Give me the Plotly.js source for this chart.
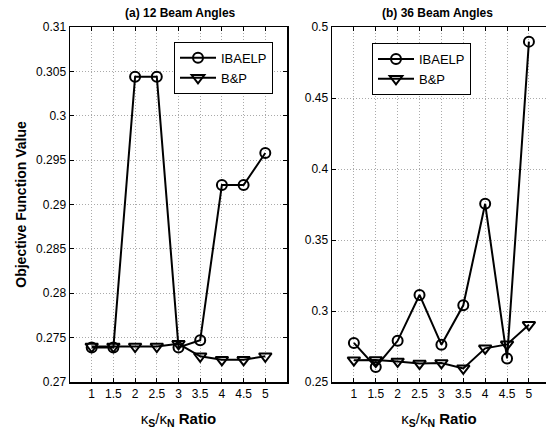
<!DOCTYPE html>
<html>
<head>
<meta charset="utf-8">
<script src="https://cdn.plot.ly/plotly-3.0.1.min.js"></script>
<style>
html,body{margin:0;padding:0;background:#fff;}
#chart{width:546px;height:432px;}
</style>
</head>
<body>
<div id="chart"></div>
<script>
// ---- data ----
const ratios = [1, 1.5, 2, 2.5, 3, 3.5, 4, 4.5, 5];
const xTickLabels = ["1", "1.5", "2", "2.5", "3", "3.5", "4", "4.5", "5"];

const ibaelp12 = [0.2739, 0.2739, 0.3044, 0.3044, 0.2739, 0.2747, 0.2922, 0.2922, 0.2958];
const bp12     = [0.2740, 0.2740, 0.2740, 0.2740, 0.2743, 0.2729, 0.2725, 0.2725, 0.2729];

const ibaelp36 = [0.2775, 0.2606, 0.2790, 0.3113, 0.2763, 0.3040, 0.3755, 0.2666, 0.4897];
const bp36     = [0.2654, 0.2655, 0.2645, 0.2630, 0.2634, 0.2596, 0.2737, 0.2765, 0.2903];

const yTicks12 = [0.27, 0.275, 0.28, 0.285, 0.29, 0.295, 0.3, 0.305, 0.31];
const yTickLabels12 = ["0.27", "0.275", "0.28", "0.285", "0.29", "0.295", "0.3", "0.305", "0.31"];
const yTicks36 = [0.25, 0.3, 0.35, 0.4, 0.45, 0.5];
const yTickLabels36 = ["0.25", "0.3", "0.35", "0.4", "0.45", "0.5"];

const seriesNames = ["IBAELP", "B&P"];
const panelTitles = ["(a) 12 Beam Angles", "(b) 36 Beam Angles"];

// ---- styles ----
const lineStyle = {color: "#000", width: 2};
const circ = {symbol: "circle-open", size: 10, color: "#000", line: {width: 2, color: "#000"}};
const tri = {symbol: "triangle-down-open", size: 11, color: "#000", line: {width: 2, color: "#000"}};
const font = "'Liberation Sans', Arial, Helvetica, sans-serif";

const traces = [
  {x: ratios, y: ibaelp12, name: seriesNames[0], mode: "lines+markers", line: lineStyle, marker: circ, xaxis: "x", yaxis: "y", legend: "legend"},
  {x: ratios, y: bp12, name: seriesNames[1], mode: "lines+markers", line: lineStyle, marker: tri, xaxis: "x", yaxis: "y", legend: "legend"},
  {x: ratios, y: ibaelp36, name: seriesNames[0], mode: "lines+markers", line: lineStyle, marker: circ, xaxis: "x2", yaxis: "y2", legend: "legend2"},
  {x: ratios, y: bp36, name: seriesNames[1], mode: "lines+markers", line: lineStyle, marker: tri, xaxis: "x2", yaxis: "y2", legend: "legend2"}
];

const W = 546;
const xTitle = "κ<sub><b>S</b></sub>/κ<sub><b>N</b></sub><b> Ratio</b>";
const xAxisCommon = {
  tickvals: ratios, ticktext: xTickLabels,
  ticks: "inside", ticklen: 4, tickcolor: "#000", tickwidth: 1,
  showline: true, linecolor: "#000", linewidth: 1.5,
  showgrid: true, gridcolor: "#aaa", griddash: "1px,2px", gridwidth: 1,
  zeroline: false,
  tickfont: {family: font, size: 12, color: "#000"},
  title: {text: xTitle, font: {family: font, size: 15, color: "#000"}, standoff: 13}
};
const yAxisCommon = {
  ticks: "inside", ticklen: 4, tickcolor: "#000", tickwidth: 1,
  showline: true, linecolor: "#000", linewidth: 1.5,
  showgrid: true, gridcolor: "#aaa", griddash: "1px,2px", gridwidth: 1,
  zeroline: false,
  tickfont: {family: font, size: 12, color: "#000"}
};

const layout = {
  width: 546, height: 432,
  margin: {l: 0, r: 0, t: 27, b: 50, pad: 0},
  paper_bgcolor: "#fff", plot_bgcolor: "#fff",
  showlegend: true,
  xaxis: Object.assign({}, xAxisCommon, {domain: [70 / W, 287 / W], range: [0.5, 5.5], mirror: "ticks", anchor: "y"}),
  yaxis: Object.assign({}, yAxisCommon, {domain: [0, 1], range: [0.27, 0.31], tickvals: yTicks12, ticktext: yTickLabels12, mirror: "ticks", anchor: "x",
    title: {text: "<b>Objective Function Value</b>", font: {family: font, size: 14, color: "#000"}, standoff: 6}}),
  xaxis2: Object.assign({}, xAxisCommon, {domain: [332 / W, 1], range: [0.5, 5.39], mirror: "ticks", anchor: "y2"}),
  yaxis2: Object.assign({}, yAxisCommon, {domain: [0, 1], range: [0.25, 0.5], tickvals: yTicks36, ticktext: yTickLabels36, mirror: false, anchor: "x2"}),
  legend: {x: 174 / W, y: 0.958, xanchor: "left", yanchor: "top", bordercolor: "#000", borderwidth: 1, bgcolor: "#fff",
    font: {family: font, size: 13, color: "#000"}, tracegroupgap: 0, itemwidth: 36},
  legend2: {x: 372 / W, y: 0.955, xanchor: "left", yanchor: "top", bordercolor: "#000", borderwidth: 1, bgcolor: "#fff",
    font: {family: font, size: 13, color: "#000"}, tracegroupgap: 0, itemwidth: 36},
  annotations: [
    {text: "<b>" + panelTitles[0] + "</b>", xref: "paper", yref: "paper", x: 180 / W, y: 1, yshift: 5, xanchor: "center", yanchor: "bottom", showarrow: false,
      font: {family: font, size: 12, color: "#000"}},
    {text: "<b>" + panelTitles[1] + "</b>", xref: "paper", yref: "paper", x: 437 / W, y: 1, yshift: 5, xanchor: "center", yanchor: "bottom", showarrow: false,
      font: {family: font, size: 12, color: "#000"}}
  ]
};

Plotly.newPlot("chart", traces, layout, {displayModeBar: false, staticPlot: true});
</script>
</body>
</html>
